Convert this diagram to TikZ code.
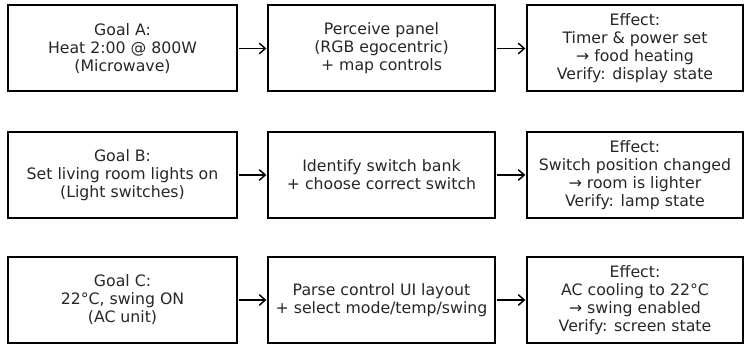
\documentclass[tikz,border=0pt]{standalone}
\usepackage{fontspec}
\setmainfont{DejaVu Sans}
\usetikzlibrary{arrows.meta}
\definecolor{txt}{HTML}{262626}
\tikzset{
  box/.style={draw=black, line width=1.5pt, rectangle, align=center, inner sep=0pt,
    minimum height=86*0.75pt, text=txt, font=\fontsize{11.8}{13.5}\selectfont},
  wA/.style={minimum width=229*0.75pt},
  wB/.style={minimum width=227*0.75pt},
  wC/.style={minimum width=216*0.75pt},
  conn/.style={line width=1pt, -{Straight Barb[length=4.5pt,width=8pt,line width=1.1pt]}, shorten <=0.5pt, shorten >=0.5pt}
}
\begin{document}
\begin{tikzpicture}[x=0.75pt,y=-0.75pt]
\useasboundingbox (0,0) rectangle (745,345);
\node[box,wA] (a1) at (122.5,48.5) {Goal A:\\Heat 2:00 @ 800W\\(Microwave)};
\node[box,wB] (a2) at (381.5,48.5) {Perceive panel\\(RGB egocentric)\\ + map controls};
\node[box,wC] (a3) at (635,48.5) {Effect:\\Timer \& power set\\ → food heating\\Verify: display state};
\node[box,wA] (b1) at (122.5,175) {Goal B:\\Set living room lights on\\(Light switches)};
\node[box,wB] (b2) at (381.5,175) {Identify switch bank\\+ choose correct switch};
\node[box,wC] (b3) at (635,175) {Effect:\\Switch position changed\\ → room is lighter\\Verify: lamp state};
\node[box,wA] (c1) at (122.5,300) {Goal C:\\22°C, swing ON\\(AC unit)};
\node[box,wB] (c2) at (381.5,300) {Parse control UI layout\\+ select mode/temp/swing};
\node[box,wC] (c3) at (635,300) {Effect:\\AC cooling to 22°C\\ → swing enabled\\Verify: screen state};
\foreach \r in {a,b,c}{
  \draw[conn] (\r1) -- (\r2);
  \draw[conn] (\r2) -- (\r3);
}
\end{tikzpicture}
\end{document}
